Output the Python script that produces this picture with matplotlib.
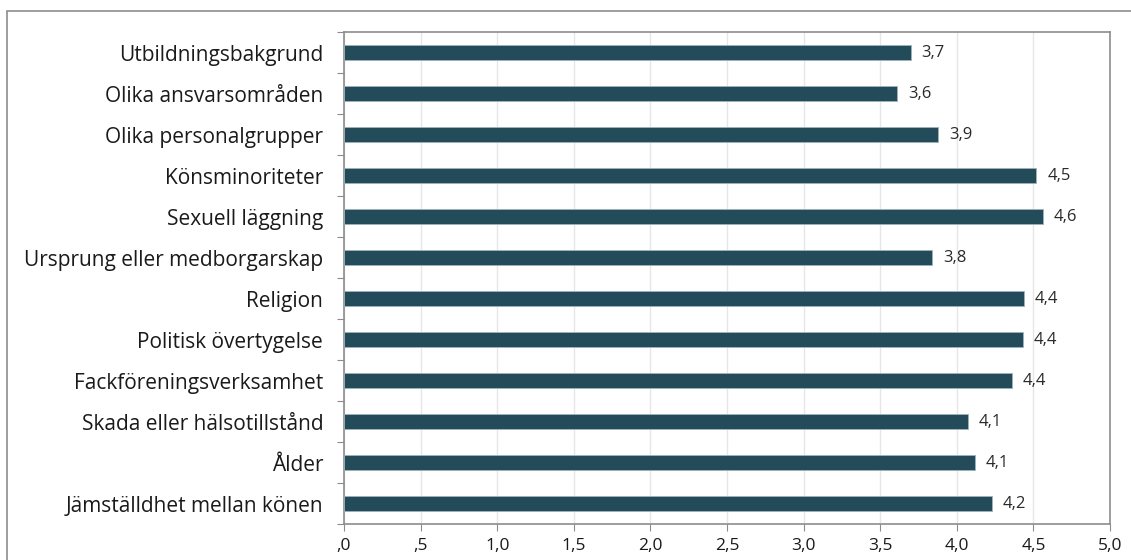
import numpy as np
import matplotlib.pyplot as plt
from matplotlib.patches import Rectangle
from matplotlib.ticker import MultipleLocator, FuncFormatter

plt.rcParams['font.family'] = ['Open Sans', 'DejaVu Sans']

categories = [
    'Utbildningsbakgrund',
    'Olika ansvarsområden',
    'Olika personalgrupper',
    'Könsminoriteter',
    'Sexuell läggning',
    'Ursprung eller medborgarskap',
    'Religion',
    'Politisk övertygelse',
    'Fackföreningsverksamhet',
    'Skada eller hälsotillstånd',
    'Ålder',
    'Jämställdhet mellan könen',
]
values = [3.70, 3.61, 3.88, 4.52, 4.56, 3.84, 4.44, 4.43, 4.36, 4.07, 4.12, 4.23]

bar_colour = '#244b5a'
spine_colour = '#8c8c8c'

fig = plt.figure(figsize=(11.31, 5.60), dpi=100)
ax = fig.add_axes([344/1131, 1-524/560, (1110-344)/1131, (524-32)/560])

y = np.arange(len(categories))
ax.barh(y, values, height=0.39, color=bar_colour,
        edgecolor='#9fb3bb', linewidth=0.6, zorder=3)

for yi, v in zip(y, values):
    ax.text(v + 0.07, yi, f'{v:.1f}'.replace('.', ','),
            va='center', ha='left', fontsize=12, color='#2a2a2a')

ax.set_ylim(len(categories) - 0.5, -0.5)
ax.set_yticks(y)
ax.set_yticklabels(categories)
ax.set_yticks(np.arange(len(categories) + 1) - 0.5, minor=True)
ax.tick_params(axis='y', which='major', length=0, pad=15,
               labelsize=15, labelcolor='#1a1a1a')
ax.tick_params(axis='y', which='minor', length=5, width=0.8,
               color=spine_colour)

ax.set_xlim(0, 5)
ax.xaxis.set_major_locator(MultipleLocator(0.5))

def comma_fmt(x, pos):
    s = f'{x:.1f}'.replace('.', ',')
    return s[1:] if s.startswith('0') else s

ax.xaxis.set_major_formatter(FuncFormatter(comma_fmt))
ax.tick_params(axis='x', length=5, width=0.8, color=spine_colour,
               pad=5, labelsize=12.5, labelcolor='#1a1a1a')

ax.grid(axis='x', color='#e6e6e6', linewidth=1, zorder=0)
ax.set_axisbelow(True)
for s in ax.spines.values():
    s.set_color(spine_colour)
    s.set_linewidth(1.2)

# outer frame around the chart
fig.add_artist(Rectangle((7/1131, -0.1), 1.2, 1.1 - 11/560,
                         transform=fig.transFigure, fill=False,
                         edgecolor='#8c8c8c', linewidth=1.2, clip_on=False))

fig.savefig('out.png', dpi=100)
